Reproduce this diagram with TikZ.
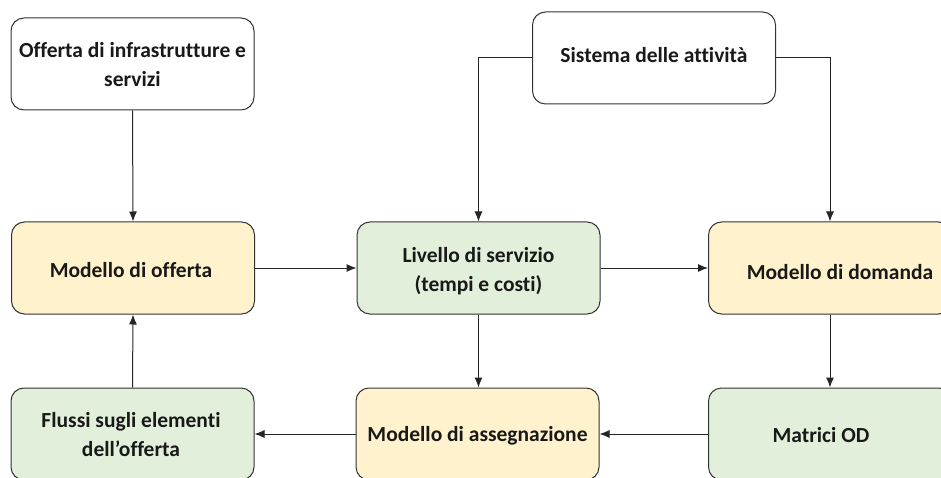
\documentclass[tikz,border=0pt]{standalone}
\usepackage{fontspec}
\setmainfont{Carlito}[Ligatures={NoCommon}]
\usetikzlibrary{arrows.meta}
\definecolor{yelfill}{HTML}{FFF2CC}
\definecolor{grnfill}{HTML}{E2EFDA}
\definecolor{edge}{HTML}{333333}
\begin{document}
\begin{tikzpicture}[x=1pt,y=-1pt,
  box/.style={draw=edge, line width=1pt, rounded corners=13pt, minimum width=243pt, minimum height=92pt, inner sep=0pt},
  txt/.style={font=\bfseries\fontsize{21.5}{29}\selectfont, align=center, text=black!90},
  yel/.style={box, fill=yelfill},
  grn/.style={box, fill=grnfill},
  arr/.style={-{Latex[length=10pt,width=8pt]}, line width=1pt, draw=black!85}]
\useasboundingbox (0,0) rectangle (941,478);
\clip (0,0) rectangle (941,478);
\node[box, fill=white] (A) at (132.5,64) {};
\node[txt] (At) at (132.5,65) {Offerta di infrastrutture e\\servizi};
\node[box, fill=white] (B) at (654,58) {};
\node[txt] (Bt) at (654,55) {Sistema delle attività};
\node[yel] (C) at (133,268) {};
\node[txt] (Ct) at (131,270) {Modello di offerta};
\node[grn] (D) at (478.5,268) {};
\node[txt] (Dt) at (478.5,271) {Livello di servizio\\(tempi e costi)};
\node[yel] (E) at (830,268) {};
\node[txt] (Et) at (840,272) {Modello di domanda};
\node[grn] (F) at (132.5,434) {};
\node[txt] (Ft) at (131,435) {Flussi sugli elementi\\dell’offerta};
\node[yel] (G) at (477.5,434) {};
\node[txt] (Gt) at (477.5,436) {Modello di assegnazione};
\node[grn] (H) at (830,434) {};
\node[txt] (Ht) at (821,435) {Matrici OD};
\draw[arr] (A.south) -- (C.north);
\draw[arr] (B.west) -| (D.north);
\draw[arr] (B.east) -| (E.north);
\draw[arr] (C.east) -- (D.west);
\draw[arr] (D.east) -- (E.west);
\draw[arr] (D.south) -- (D.south |- G.north);
\draw[arr] (E.south) -- (H.north);
\draw[arr] (H.west) -- (G.east);
\draw[arr] (G.west) -- (F.east);
\draw[arr] (F.north) -- (C.south);
\end{tikzpicture}
\end{document}
